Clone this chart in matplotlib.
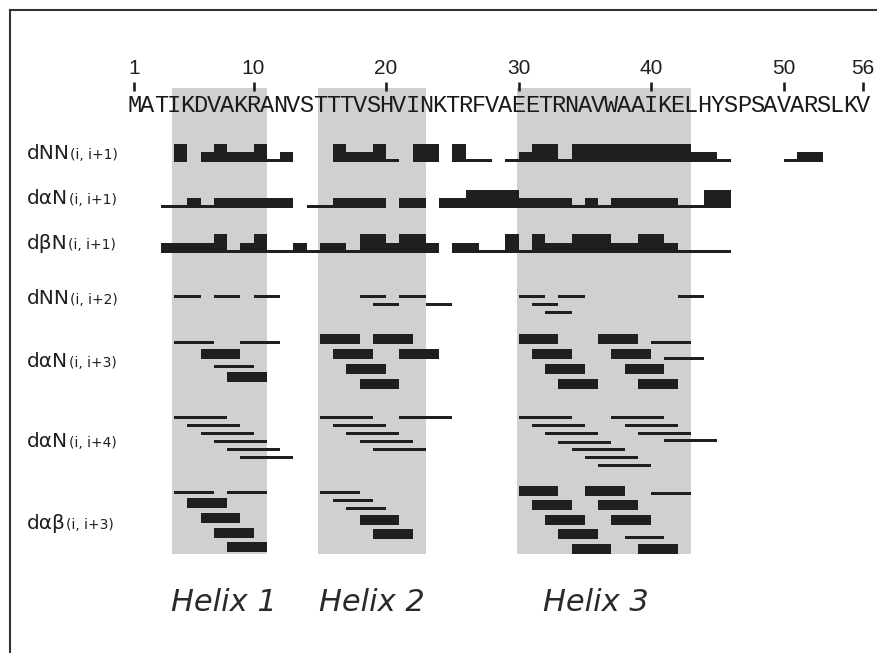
import matplotlib
matplotlib.use("Agg")
import matplotlib.pyplot as plt
from matplotlib.lines import Line2D

# ---------------- data ----------------
sequence = "MATIKDVAKRANVSTTTVSHVINKTRFVAEETRNAVWAAIKELHYSPSAVARSLKV"
tick_residues = [1, 10, 20, 30, 40, 50, 56]

helix_names = ["Helix 1", "Helix 2", "Helix 3"]
helix_start = [4, 15, 30]
helix_end = [11, 23, 43]

row_main = ["dNN", "dαN", "dβN", "dNN", "dαN", "dαN", "dαβ"]
row_sub = ["(i, i+1)", "(i, i+1)", "(i, i+1)", "(i, i+2)", "(i, i+3)", "(i, i+4)", "(i, i+3)"]

# sequential NOEs: (from residue, to residue, intensity 1=weak 2=medium 3=strong)
dNN_i1 = [(4, 5, 3), (6, 7, 2), (7, 8, 3), (8, 10, 2), (10, 11, 3), (11, 12, 1),
          (12, 13, 2), (16, 17, 3), (17, 19, 2), (19, 20, 3), (20, 21, 1),
          (22, 24, 3), (25, 26, 3), (26, 28, 1), (29, 30, 1), (30, 31, 2),
          (31, 33, 3), (33, 34, 1), (34, 43, 3), (43, 45, 2), (45, 46, 1),
          (50, 51, 1), (51, 53, 2)]
daN_i1 = [(3, 5, 1), (5, 6, 2), (6, 7, 1), (7, 13, 2), (14, 16, 1), (16, 20, 2),
          (21, 23, 2), (24, 26, 2), (26, 30, 3), (30, 34, 2), (34, 35, 1),
          (35, 36, 2), (36, 37, 1), (37, 42, 2), (42, 44, 1), (44, 46, 3)]
dbN_i1 = [(3, 7, 2), (7, 8, 3), (8, 9, 1), (9, 10, 2), (10, 11, 3), (11, 13, 1),
          (13, 14, 2), (14, 15, 1), (15, 17, 2), (17, 18, 1), (18, 20, 3),
          (20, 21, 2), (21, 23, 3), (23, 24, 2), (25, 27, 2), (27, 29, 1),
          (29, 30, 3), (30, 31, 1), (31, 32, 3), (32, 34, 2), (34, 37, 3),
          (37, 39, 2), (39, 41, 3), (41, 42, 2), (42, 46, 1)]

# medium-range NOEs: (i, j, intensity 'w'/'s', track)
dNN_i2 = [(4, 6, 'w', 0), (7, 9, 'w', 0), (10, 12, 'w', 0), (18, 20, 'w', 0),
          (21, 23, 'w', 0), (19, 21, 'w', 1), (23, 25, 'w', 1), (30, 32, 'w', 0),
          (33, 35, 'w', 0), (42, 44, 'w', 0), (31, 33, 'w', 1), (32, 34, 'w', 2)]
daN_i3 = [(4, 7, 'w', 0.2), (9, 12, 'w', 0.2), (6, 9, 's', 1), (7, 10, 'w', 1.8),
          (8, 11, 's', 2.55),
          (15, 18, 's', 0), (19, 22, 's', 0), (16, 19, 's', 1), (21, 24, 's', 1),
          (17, 20, 's', 2), (18, 21, 's', 3),
          (30, 33, 's', 0), (36, 39, 's', 0), (40, 43, 'w', 0.2), (31, 34, 's', 1),
          (37, 40, 's', 1), (41, 44, 'w', 1.3), (32, 35, 's', 2), (38, 41, 's', 2),
          (33, 36, 's', 3), (39, 42, 's', 3)]
daN_i4 = [(4, 8, 'w', 0), (5, 9, 'w', 1), (6, 10, 'w', 2), (7, 11, 'w', 3),
          (8, 12, 'w', 4), (9, 13, 'w', 5),
          (15, 19, 'w', 0), (21, 25, 'w', 0), (16, 20, 'w', 1), (17, 21, 'w', 2),
          (18, 22, 'w', 3), (19, 23, 'w', 4),
          (30, 34, 'w', 0), (37, 41, 'w', 0), (31, 35, 'w', 1), (38, 42, 'w', 1),
          (32, 36, 'w', 2), (39, 43, 'w', 2), (41, 45, 'w', 2.9), (33, 37, 'w', 3.1),
          (34, 38, 'w', 4), (35, 39, 'w', 5), (36, 40, 'w', 6)]
dab_i3 = [(4, 7, 'w', 0.15), (8, 11, 'w', 0.15), (5, 8, 's', 0.86), (6, 9, 's', 1.92),
          (7, 10, 's', 2.93), (8, 11, 's', 3.93),
          (15, 18, 'w', 0.15), (16, 19, 'w', 0.7), (17, 20, 'w', 1.25),
          (18, 21, 's', 2), (19, 22, 's', 3),
          (30, 33, 's', 0), (35, 38, 's', 0), (40, 43, 'w', 0.22), (31, 34, 's', 1),
          (36, 39, 's', 1), (32, 35, 's', 2), (37, 40, 's', 2), (33, 36, 's', 3),
          (38, 41, 'w', 3.25), (34, 37, 's', 4), (39, 42, 's', 4)]

# ---------------- layout ----------------
W, H = 878, 653
ink = "#1f1f1f"
shade = "#d0d0d0"
px0, pitch = 121.05, 13.25          # pixel x of residue 0, pixels per residue
seq_rows = [dNN_i1, daN_i1, dbN_i1]
seq_base = [162.3, 208.3, 252.7]
seq_h = {1: 3.0, 2: 10.0, 3: 18.5}
mr_rows = [dNN_i2, daN_i3, daN_i4, dab_i3]
mr_base = [296.6, 339.0, 417.5, 490.5]
mr_step = [8.0, 15.0, 8.0, 14.5]
mr_h = {'w': 3.0, 's': 10.0}
label_baselines = [159, 203.5, 249, 304, 367, 447, 529]
helix_label_shift = [0.3, 0.0, -0.6]

fig = plt.figure(figsize=(W / 100, H / 100), dpi=100)
ax = fig.add_axes([0, 0, 1, 1])
ax.set_xlim(-px0 / pitch, (W - px0) / pitch)
ax.set_ylim(H, 0)
ax.axis("off")

# helix shading
for s, e in zip(helix_start, helix_end):
    ax.bar(s - 0.15, 554 - 88, width=e - (s - 0.15), bottom=88, align="edge",
           color=shade, linewidth=0, zorder=0)

# ticks and residue numbers
for r in tick_residues:
    ax.plot([r, r], [82, 90.5], color=ink, lw=1.9, solid_capstyle="butt", zorder=3)
    ax.text(r, 74, str(r), ha="center", va="baseline", fontsize=15,
            family="Liberation Sans", color=ink, zorder=3)

# sequence
for k, aa in enumerate(sequence):
    ax.text(k + 1, 111.5, aa, ha="center", va="baseline", fontsize=17,
            family="Liberation Mono", color="#1a1a1a", zorder=3)

# sequential NOE bar rows
for segs, base in zip(seq_rows, seq_base):
    xs = [s for s, e, l in segs]
    ws = [e - s for s, e, l in segs]
    hs = [-seq_h[l] for s, e, l in segs]
    ax.bar(xs, hs, width=ws, bottom=base, align="edge", color=ink, linewidth=0, zorder=2)

# medium-range rows
for segs, base, step in zip(mr_rows, mr_base, mr_step):
    xs = [i for i, j, st, tr in segs]
    ws = [j - i for i, j, st, tr in segs]
    hs = [mr_h[st] for i, j, st, tr in segs]
    bs = [base + tr * step - mr_h[st] / 2 for i, j, st, tr in segs]
    ax.bar(xs, hs, width=ws, bottom=bs, align="edge", color=ink, linewidth=0, zorder=2)

# row labels
renderer = fig.canvas.get_renderer()
xlab = (27 - px0) / pitch
for main, sub, yb in zip(row_main, row_sub, label_baselines):
    t = ax.text(xlab, yb, main, ha="left", va="baseline", fontsize=14.5,
                family="DejaVu Sans", color=ink)
    bb = t.get_window_extent(renderer=renderer)
    x1 = ax.transData.inverted().transform((bb.x1 + 0.5, 0))[0]
    ax.text(x1, yb, sub, ha="left", va="baseline", fontsize=10,
            family="DejaVu Sans", color=ink)

# helix labels
for name, s, e, dx in zip(helix_names, helix_start, helix_end, helix_label_shift):
    ax.text((s - 0.15 + e) / 2 + dx, 611, name, ha="center", va="baseline",
            fontsize=22, style="italic", family="DejaVu Sans", color="#2a2a2a")

# frame (top and left edges)
fig.add_artist(Line2D([10 / W, 1], [1 - 10 / H, 1 - 10 / H], transform=fig.transFigure,
                      color="#333333", lw=1.5))
fig.add_artist(Line2D([10 / W, 10 / W], [0, 1 - 10 / H], transform=fig.transFigure,
                      color="#333333", lw=1.5))

fig.savefig("out.png", dpi=100, facecolor="white")
